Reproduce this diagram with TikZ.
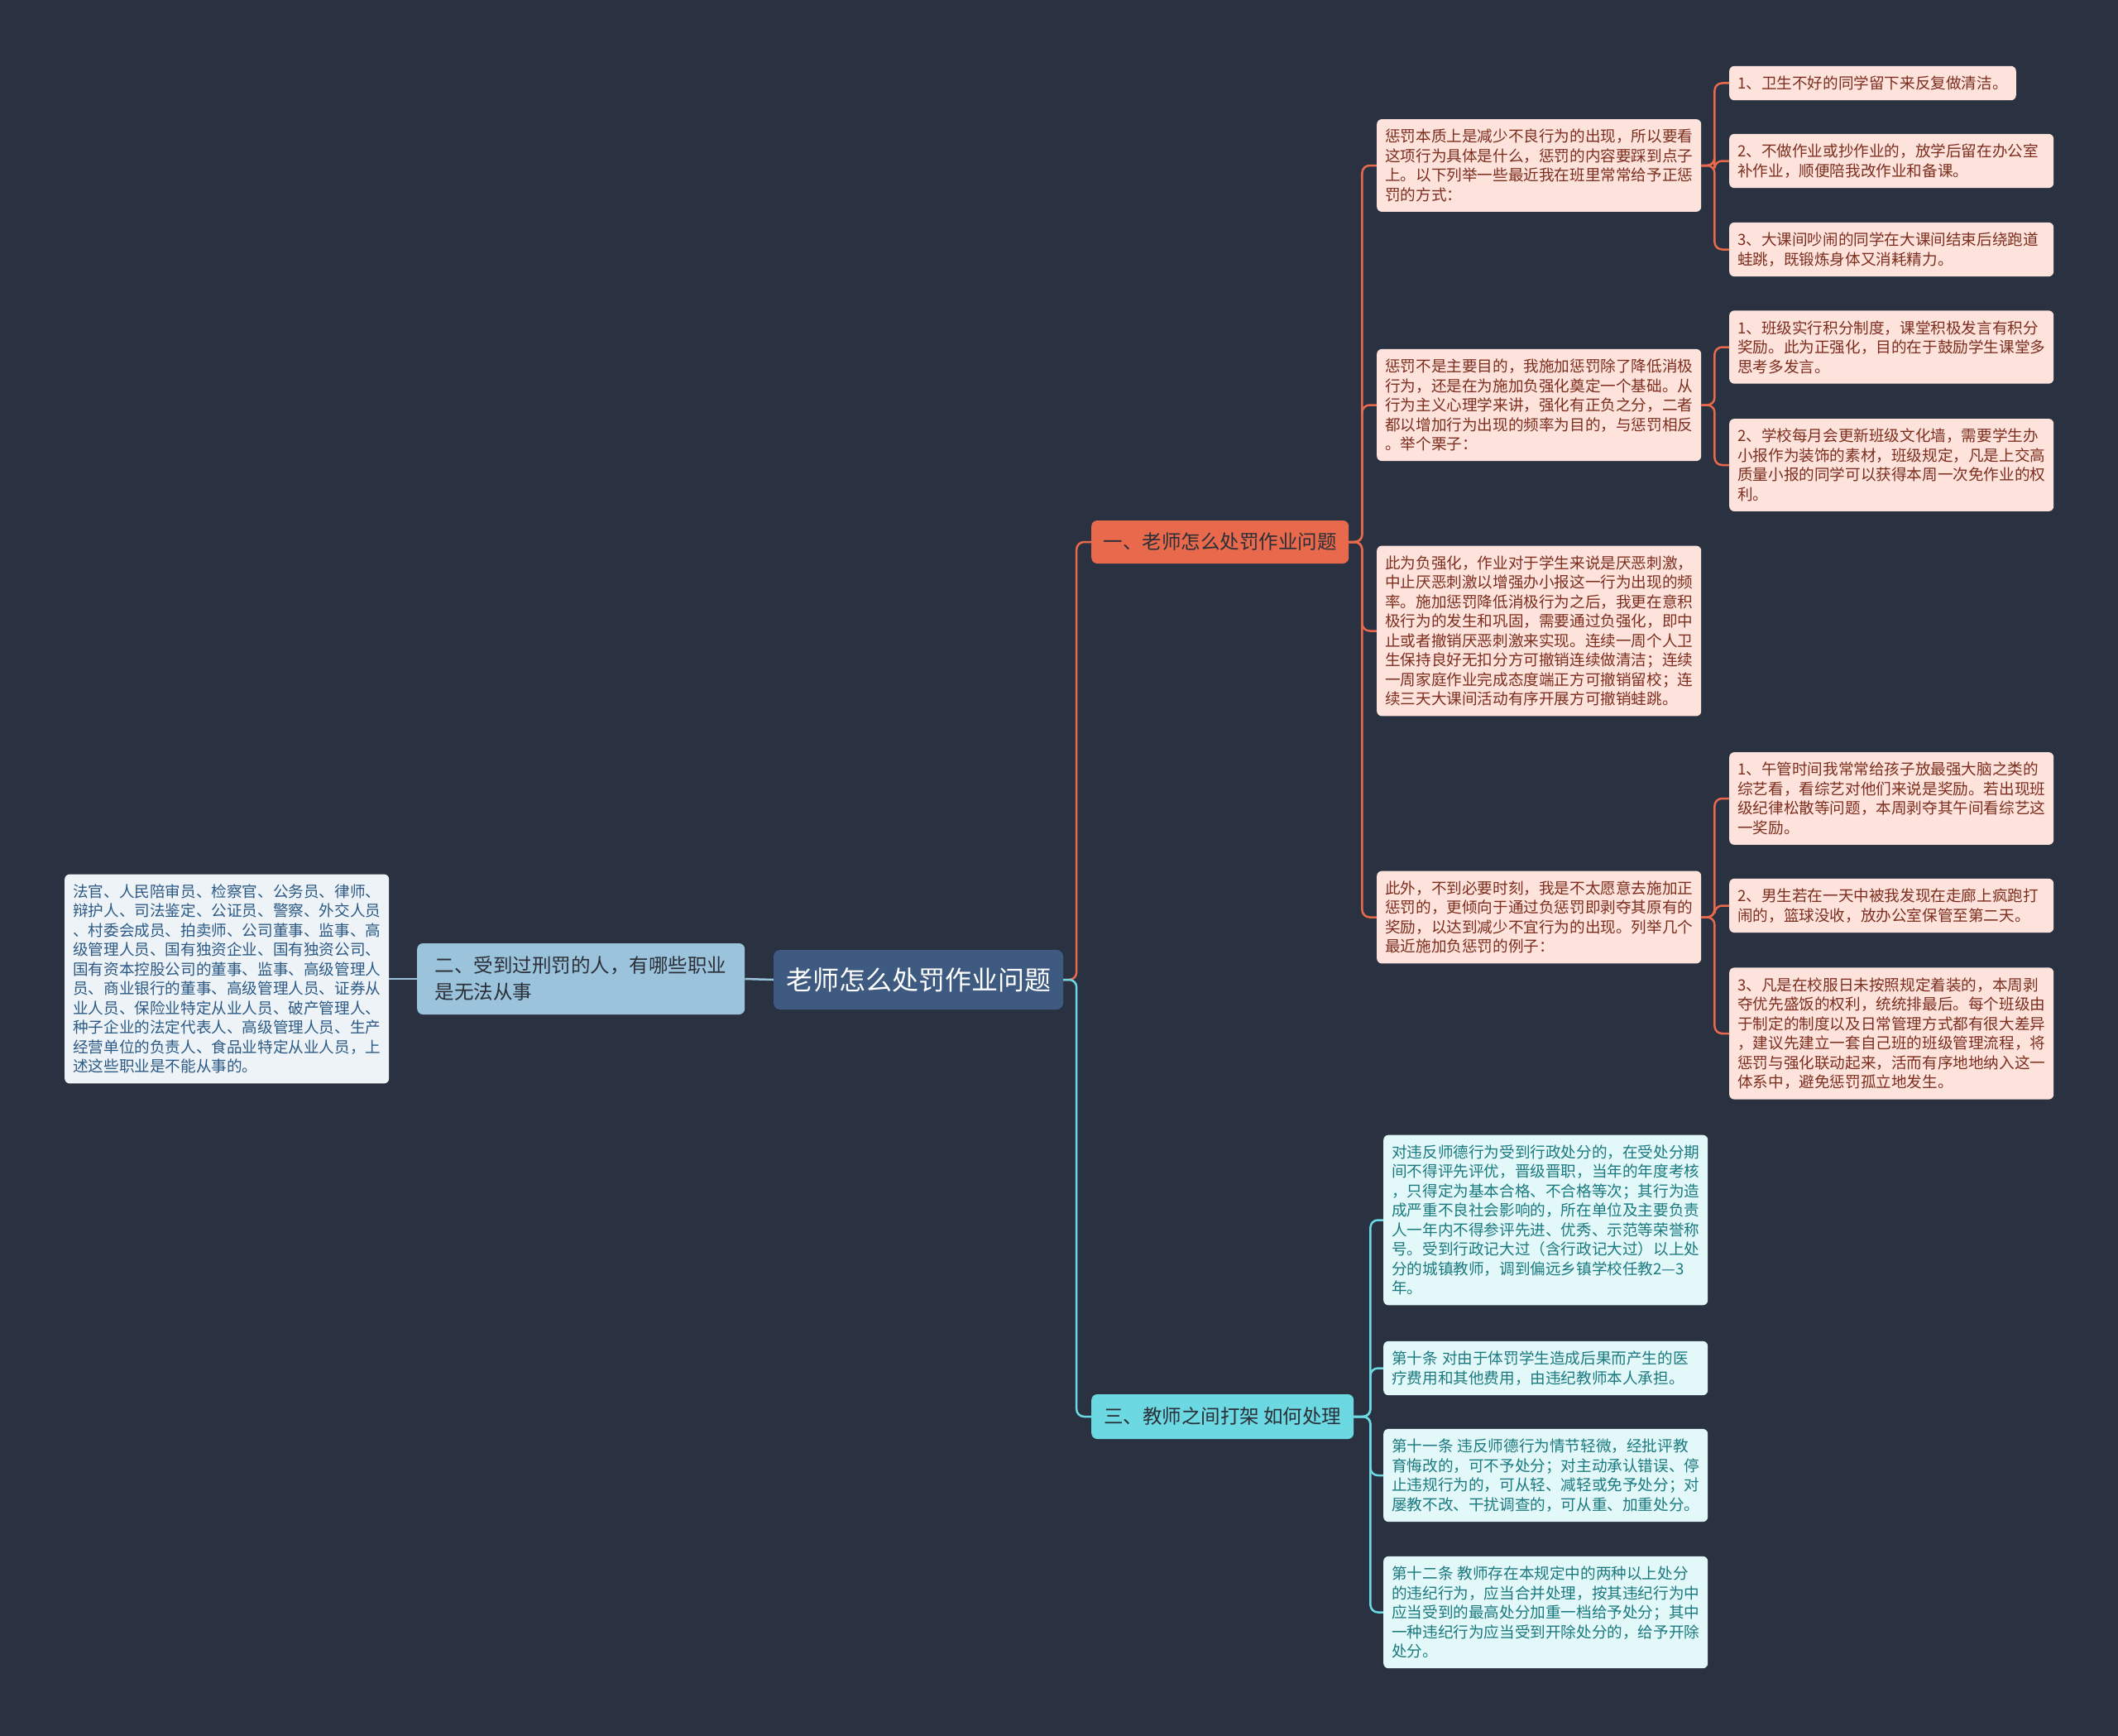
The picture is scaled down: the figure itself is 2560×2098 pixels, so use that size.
\documentclass[tikz,border=0pt]{standalone}
\usepackage{fontspec}
\setmainfont{Noto Sans CJK SC}
\definecolor{bg}{HTML}{2A3241}
\definecolor{orng}{HTML}{E8694B}
\definecolor{cyn}{HTML}{6BD8E2}
\definecolor{lblue}{HTML}{9CC3DC}
\definecolor{cnode}{HTML}{3E5A80}
\definecolor{oleaf}{HTML}{FDE3DC}
\definecolor{otext}{HTML}{7D2E1E}
\definecolor{cleaf}{HTML}{E2F8F9}
\definecolor{ctext}{HTML}{1B7A80}
\definecolor{bleaf}{HTML}{EEF3F8}
\definecolor{btext}{HTML}{2C5A85}
\definecolor{dtext}{HTML}{2A2F38}
\newcommand{\gp}{\hspace*{5pt}}
\begin{document}
\begin{tikzpicture}[x=1pt,y=-1pt,
  leafbase/.style={rounded corners=6pt, align=left, inner xsep=10pt, inner ysep=12pt, font=\fontsize{18.6}{23.5}\selectfont, anchor=west},
  wide/.style={text width=372pt},
  oleafbox/.style={leafbase, fill=oleaf, text=otext},
  cleafbox/.style={leafbase, wide, fill=cleaf, text=ctext},
  bleafbox/.style={leafbase, fill=bleaf, text=btext},
  branchbox/.style={rounded corners=7pt, align=left, inner xsep=14pt, inner ysep=8pt, font=\fontsize{23.5}{32}\selectfont, text=dtext, anchor=west},
  conn/.style={line width=2.5pt, rounded corners=9pt},
  oline/.style={conn, draw=orng},
  cline/.style={conn, draw=cyn},
  bline/.style={conn, draw=lblue}]
\fill[bg] (0,0) rectangle (2560,2098);
\useasboundingbox (0,0) rectangle (2560,2098);

% center
\node[rounded corners=8pt, fill=cnode, text=white, font=\fontsize{32}{38}\selectfont, minimum width=350pt, minimum height=72pt, inner sep=0pt] (ctr) at (1110,1184) {老师怎么处罚作业问题};

% left branch
\node[branchbox, fill=lblue, minimum width=396pt, minimum height=86pt] (lb) at (504,1183) {二、受到过刑罚的人，有哪些职业\\是无法从事};
\node[bleafbox] (ll) at (78,1183) {法官、人民陪审员、检察官、公务员、律师、\\辩护人、司法鉴定、公证员、警察、外交人员\\、村委会成员、拍卖师、公司董事、监事、高\\级管理人员、国有独资企业、国有独资公司、\\国有资本控股公司的董事、监事、高级管理人\\员、商业银行的董事、高级管理人员、证券从\\业人员、保险业特定从业人员、破产管理人、\\种子企业的法定代表人、高级管理人员、生产\\经营单位的负责人、食品业特定从业人员，上\\述这些职业是不能从事的。};

% branch 1
\node[branchbox, fill=orng, minimum width=311pt, minimum height=52pt] (b1) at (1319,655) {一、老师怎么处罚作业问题};
\node[oleafbox, wide] (A1) at (1664,200) {惩罚本质上是减少不良行为的出现，所以要看\\这项行为具体是什么，惩罚的内容要踩到点子\\上。以下列举一些最近我在班里常常给予正惩\\罚的方式：};
\node[oleafbox, wide] (A2) at (1664,489.5) {惩罚不是主要目的，我施加惩罚除了降低消极\\行为，还是在为施加负强化奠定一个基础。从\\行为主义心理学来讲，强化有正负之分，二者\\都以增加行为出现的频率为目的，与惩罚相反\\。举个栗子：};
\node[oleafbox, wide] (A3) at (1664,762.5) {此为负强化，作业对于学生来说是厌恶刺激，\\中止厌恶刺激以增强办小报这一行为出现的频\\率。施加惩罚降低消极行为之后，我更在意积\\极行为的发生和巩固，需要通过负强化，即中\\止或者撤销厌恶刺激来实现。连续一周个人卫\\生保持良好无扣分方可撤销连续做清洁；连续\\一周家庭作业完成态度端正方可撤销留校；连\\续三天大课间活动有序开展方可撤销蛙跳。};
\node[oleafbox, wide] (A4) at (1664,1108.5) {此外，不到必要时刻，我是不太愿意去施加正\\惩罚的，更倾向于通过负惩罚即剥夺其原有的\\奖励，以达到减少不宜行为的出现。列举几个\\最近施加负惩罚的例子：};

\node[oleafbox] (a11) at (2090,100.5) {1、卫生不好的同学留下来反复做清洁。};
\node[oleafbox, wide] (a12) at (2090,194.5) {2、不做作业或抄作业的，放学后留在办公室\\补作业，顺便陪我改作业和备课。};
\node[oleafbox, wide] (a13) at (2090,301.5) {3、大课间吵闹的同学在大课间结束后绕跑道\\蛙跳，既锻炼身体又消耗精力。};
\node[oleafbox, wide] (a21) at (2090,419.5) {1、班级实行积分制度，课堂积极发言有积分\\奖励。此为正强化，目的在于鼓励学生课堂多\\思考多发言。};
\node[oleafbox, wide] (a22) at (2090,562) {2、学校每月会更新班级文化墙，需要学生办\\小报作为装饰的素材，班级规定，凡是上交高\\质量小报的同学可以获得本周一次免作业的权\\利。};
\node[oleafbox, wide] (a41) at (2090,965) {1、午管时间我常常给孩子放最强大脑之类的\\综艺看，看综艺对他们来说是奖励。若出现班\\级纪律松散等问题，本周剥夺其午间看综艺这\\一奖励。};
\node[oleafbox, wide] (a42) at (2090,1094.5) {2、男生若在一天中被我发现在走廊上疯跑打\\闹的，篮球没收，放办公室保管至第二天。};
\node[oleafbox, wide] (a43) at (2090,1249) {3、凡是在校服日未按照规定着装的，本周剥\\夺优先盛饭的权利，统统排最后。每个班级由\\于制定的制度以及日常管理方式都有很大差异\\，建议先建立一套自己班的班级管理流程，将\\惩罚与强化联动起来，活而有序地地纳入这一\\体系中，避免惩罚孤立地发生。};

% branch 3
\node[branchbox, fill=cyn, minimum width=317pt, minimum height=54pt] (b3) at (1319,1712) {三、教师之间打架 如何处理};
\node[cleafbox] (c1) at (1672,1474.5) {对违反师德行为受到行政处分的，在受处分期\\间不得评先评优，晋级晋职，当年的年度考核\\，只得定为基本合格、不合格等次；其行为造\\成严重不良社会影响的，所在单位及主要负责\\人一年内不得参评先进、优秀、示范等荣誉称\\号。受到行政记大过（含行政记大过）以上处\\分的城镇教师，调到偏远乡镇学校任教2—3\\年。};
\node[cleafbox] (c2) at (1672,1653.5) {第十条\gp{}对由于体罚学生造成后果而产生的医\\疗费用和其他费用，由违纪教师本人承担。};
\node[cleafbox] (c3) at (1672,1783) {第十一条\gp{}违反师德行为情节轻微，经批评教\\育悔改的，可不予处分；对主动承认错误、停\\止违规行为的，可从轻、减轻或免予处分；对\\屡教不改、干扰调查的，可从重、加重处分。};
\node[cleafbox] (c4) at (1672,1948.5) {第十二条\gp{}教师存在本规定中的两种以上处分\\的违纪行为，应当合并处理，按其违纪行为中\\应当受到的最高处分加重一档给予处分；其中\\一种违纪行为应当受到开除处分的，给予开除\\处分。};

% connectors
\draw[bline] (ctr.west) -- (lb.east);
\draw[bline] (lb.west) -- (ll.east);
\draw[oline] (ctr.east) -- ++(16,0) |- (b1.west);
\draw[cline] (ctr.east) -- ++(16,0) |- (b3.west);
\foreach \n in {A1,A2,A3,A4} \draw[oline] (b1.east) -- ++(16,0) |- (\n.west);
\foreach \n in {a11,a12,a13} \draw[oline] (A1.east) -- ++(16,0) |- (\n.west);
\foreach \n in {a21,a22} \draw[oline] (A2.east) -- ++(16,0) |- (\n.west);
\foreach \n in {a41,a42,a43} \draw[oline] (A4.east) -- ++(16,0) |- (\n.west);
\foreach \n in {c1,c2,c3,c4} \draw[cline] (b3.east) -- ++(20,0) |- (\n.west);
\end{tikzpicture}
\end{document}
